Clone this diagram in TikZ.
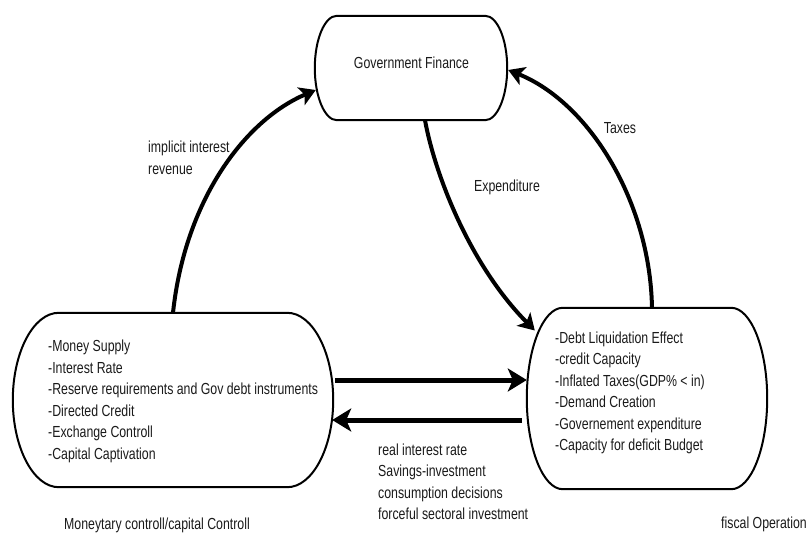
\documentclass[tikz,border=0pt]{standalone}
\usepackage{fontspec}
\setmainfont[FakeStretch=0.77]{Liberation Sans}
\usetikzlibrary{arrows.meta}
\definecolor{ink}{HTML}{1A1A1A}
\newcommand{\ovalbox}[3]{%
  \draw[boxline] ([xshift=#2]#1.north west) -- ([xshift=-#2]#1.north east)
    .. controls ([xshift=-0.45*#2]#1.north east) and ([yshift=0.55*#3]#1.east) .. (#1.east)
    .. controls ([yshift=-0.55*#3]#1.east) and ([xshift=-0.45*#2]#1.south east) .. ([xshift=-#2]#1.south east)
    -- ([xshift=#2]#1.south west)
    .. controls ([xshift=0.45*#2]#1.south west) and ([yshift=-0.55*#3]#1.west) .. (#1.west)
    .. controls ([yshift=0.55*#3]#1.west) and ([xshift=0.45*#2]#1.north west) .. cycle;}
\begin{document}
\begin{tikzpicture}[x=1pt,y=-1pt,
  font=\fontsize{16}{21.5}\selectfont,
  every node/.style={text=ink},
  boxshape/.style={rectangle, draw=none, inner sep=0pt},
  boxline/.style={draw=black, line width=2pt},
  txt/.style={inner sep=0pt, align=left},
  bigarr/.style={line width=5pt, -{Stealth[length=19pt,width=23pt,inset=5pt]}},
  curvarr/.style={line width=4pt, -{Stealth[length=16pt,width=19pt,inset=4pt]}}]
\useasboundingbox (0,0) rectangle (807,533);

% boxes
\node[boxshape, minimum width=192pt, minimum height=104pt] (gov) at (411,68) {};
\node[boxshape, minimum width=320pt, minimum height=174pt] (mon) at (173,400) {};
\node[boxshape, minimum width=240pt, minimum height=181pt] (fis) at (647,398.5) {};
\ovalbox{gov}{22pt}{52pt}
\ovalbox{mon}{46pt}{87pt}
\ovalbox{fis}{36pt}{90.5pt}

% box texts
\node[txt] (govtxt) at (411.5,63) {Government Finance};
\node[txt, anchor=west] (montxt) at (48,401.5) {-Money Supply\\-Interest Rate\\-Reserve requirements and Gov debt instruments\\-Directed Credit\\-Exchange Controll\\-Capital Captivation};
\node[txt, anchor=west] (fistxt) at (555,393) {-Debt Liquidation Effect\\-credit Capacity\\-Inflated Taxes(GDP\% {<} in)\\-Demand Creation\\-Governement expenditure\\-Capacity for deficit Budget};

% connectors
\draw[curvarr] (mon.north) .. controls (185,200) and (245,120) .. ([xshift=1pt,yshift=-22pt]gov.west);
\draw[curvarr] ([xshift=5pt]fis.north) .. controls (650,200) and (588,102) .. ([xshift=1pt,yshift=-2pt]gov.east);
\draw[curvarr] ([xshift=14pt]gov.south) .. controls (435,175) and (470,265) .. ([xshift=8pt,yshift=68pt]fis.west);
\draw[bigarr] ([xshift=2pt,yshift=20pt]mon.east) -- ([yshift=18.5pt]fis.west);
\draw[bigarr] ([xshift=-5pt,yshift=-21.5pt]fis.west) -- ([xshift=-1pt,yshift=-20pt]mon.east);

% labels
\node[txt, anchor=west] (lblimp) at (148,158) {implicit interest\\revenue};
\node[txt] (lblexp) at (507,187) {Expenditure};
\node[txt] (lbltax) at (620,128) {Taxes};
\node[txt, anchor=west] (lblreal) at (378,482) {real interest rate\\Savings-investment\\consumption decisions\\forceful sectoral investment};
\node[txt] (lblmon) at (157,525) {Moneytary controll/capital Controll};
\node[txt] (lblfis) at (764,524) {fiscal Operation};
\end{tikzpicture}
\end{document}
